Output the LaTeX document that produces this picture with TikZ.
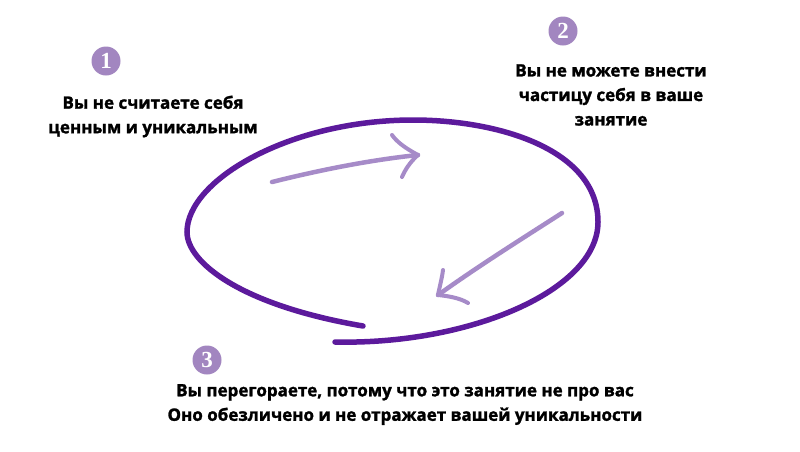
\documentclass[tikz,border=0pt]{standalone}
\usepackage{fontspec}
\setmainfont{Open Sans}[BoldFeatures={FakeBold=1.6}]
\newfontfamily\numfont{Liberation Serif}
\definecolor{ringpurple}{HTML}{5C1A9C}
\definecolor{arrowlav}{HTML}{A68BC8}
\definecolor{badgelav}{HTML}{A286C0}
\begin{document}
\begin{tikzpicture}[x=1pt,y=-1pt,
  label/.style={align=center,font=\bfseries\fontsize{17}{24.5}\selectfont,text=black,inner sep=0pt},
  badge/.style={circle,fill=badgelav,minimum size=29pt,inner sep=0pt,text=white,font=\numfont\bfseries\fontsize{23}{23}\selectfont},
  ring/.style={draw=ringpurple,line width=5.5pt,line cap=round},
  handarrow/.style={draw=arrowlav,line width=4.5pt,line cap=round}]
\useasboundingbox[fill=white] (0,0) rectangle (800,451);
% badges
\node[badge] (b1) at (106,61) {1};
\node[badge] (b2) at (563,31) {2};
\node[badge] (b3) at (207,360) {3};
% texts
\node[label] (t1) at (153,116.5) {Вы не считаете себя\\ценным и уникальным};
\node[label] (t2) at (611,95) {Вы не можете внести\\частицу себя в ваше\\занятие};
\node[label] (t3) at (405,404.5) {Вы перегораете, потому что это занятие не про вас\\Оно обезличено и не отражает вашей уникальности};
% ring
\coordinate (rs) at (335,342);
\coordinate (rr) at (598,222);
\coordinate (rt) at (413,120);
\coordinate (rl) at (187,232);
\coordinate (re) at (363,326);
\path[ring] (rs) .. controls (470,345) and (598,290) .. (rr)
  .. controls (598,150) and (500,120) .. (rt)
  .. controls (290,120) and (187,180) .. (rl)
  .. controls (187,262) and (240,305) .. (re);
% arrow 1
\coordinate (a1s) at (272,182);
\coordinate (a1t) at (418,155);
\coordinate (a1u) at (392,135);
\coordinate (a1d) at (402,177);
\path[handarrow] (a1s) .. controls (320,170) and (370,160) .. (a1t);
\path[handarrow,line width=4pt] (a1t) .. controls (405,148) and (397,142) .. (a1u);
\path[handarrow,line width=4pt] (a1t) .. controls (410,162) and (405,170) .. (a1d);
% arrow 2
\coordinate (a2s) at (562,213);
\coordinate (a2t) at (438,295);
\coordinate (a2u) at (443,270);
\coordinate (a2d) at (468,303);
\path[handarrow] (a2s) .. controls (520,240) and (480,265) .. (a2t);
\path[handarrow,line width=4pt] (a2t) .. controls (440,285) and (442,278) .. (a2u);
\path[handarrow,line width=4pt] (a2t) .. controls (448,296) and (460,298) .. (a2d);
\end{tikzpicture}
\end{document}
